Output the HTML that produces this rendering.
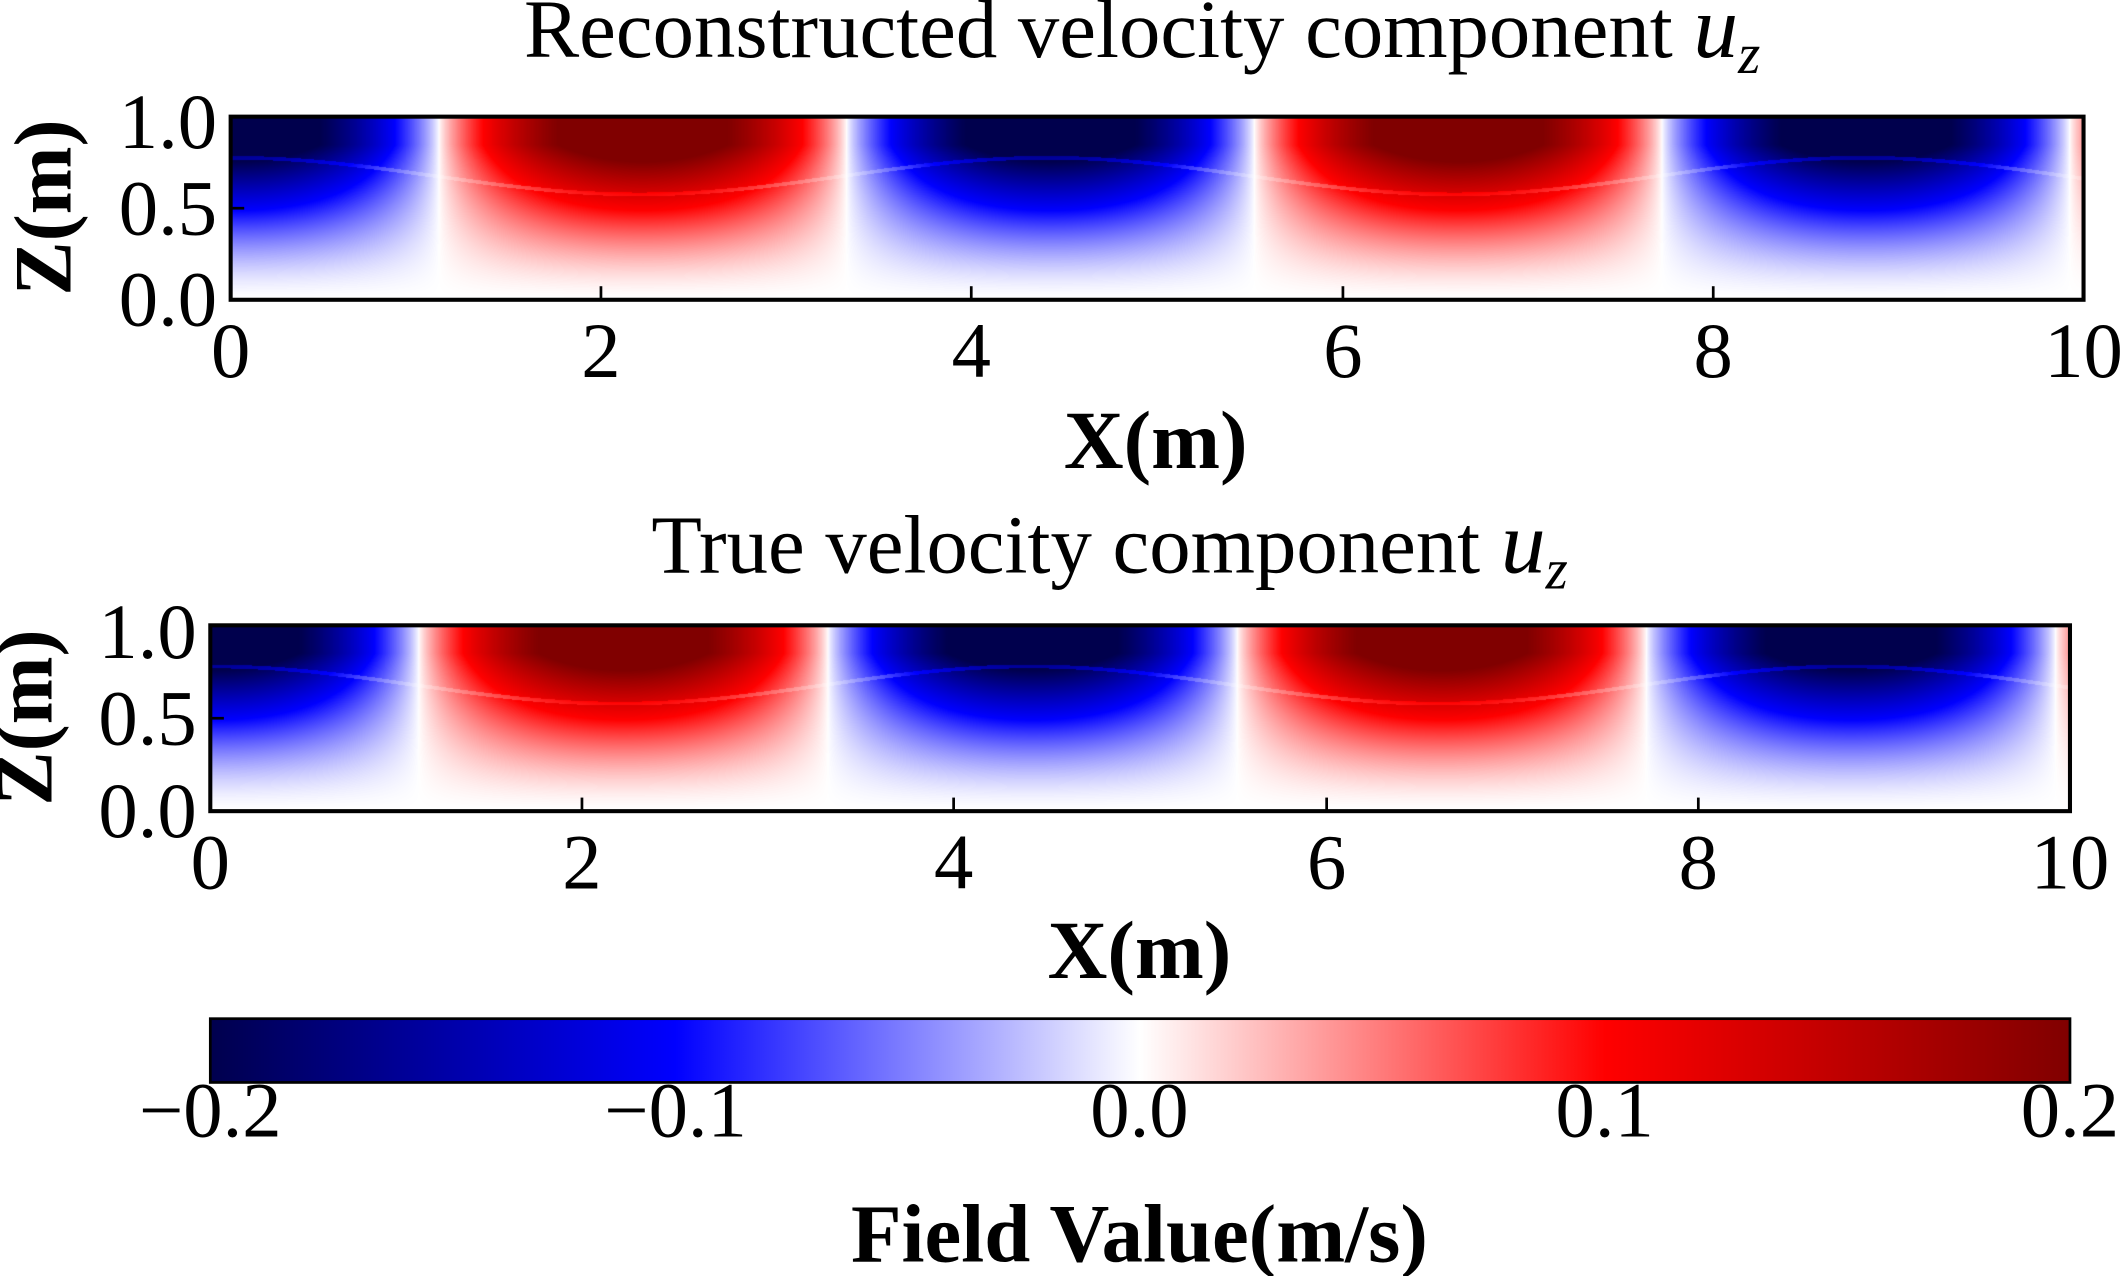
<!DOCTYPE html>
<html><head><meta charset="utf-8"><style>
html,body{margin:0;padding:0;background:#fff;}
#w{position:relative;width:2127px;height:1276px;overflow:hidden;}
canvas{position:absolute;}
svg{position:absolute;left:0;top:0;}
text{font-family:"Liberation Serif",serif;fill:#000;}
</style></head><body><div id="w">
<canvas id="c1" style="left:231px;top:117px" width="1853" height="183"></canvas>
<canvas id="c2" style="left:210px;top:625px" width="1860" height="186"></canvas>
<svg width="2127" height="1276" viewBox="0 0 1568 940.7">
<defs><linearGradient id="g" x1="0" x2="1" y1="0" y2="0">
<stop offset="0" stop-color="#00004d"/><stop offset="0.25" stop-color="#0000ff"/><stop offset="0.5" stop-color="#ffffff"/><stop offset="0.75" stop-color="#ff0000"/><stop offset="1" stop-color="#800000"/></linearGradient></defs>
<text x="842" y="42" font-size="61" text-anchor="middle">Reconstructed velocity component <tspan font-style="italic" font-size="66">u</tspan><tspan font-style="italic" font-size="42" dy="12">z</tspan></text>
<rect x="170" y="86" width="1366" height="135" fill="none" stroke="#000" stroke-width="3"/>
<g stroke="#000" stroke-width="2">
<line x1="170" y1="153.5" x2="180" y2="153.5"/>
<line x1="443" y1="221" x2="443" y2="211"/><line x1="716" y1="221" x2="716" y2="211"/><line x1="990" y1="221" x2="990" y2="211"/><line x1="1263" y1="221" x2="1263" y2="211"/>
</g>
<g font-size="58" text-anchor="end"><text x="160" y="109">1.0</text><text x="160" y="173">0.5</text><text x="160" y="240">0.0</text></g>
<g font-size="58" text-anchor="middle"><text x="170" y="278">0</text><text x="443" y="278">2</text><text x="716" y="278">4</text><text x="990" y="278">6</text><text x="1263" y="278">8</text><text x="1536" y="278">10</text></g>
<text x="852" y="345" font-size="61" font-weight="bold" text-anchor="middle">X(m)</text>
<text transform="translate(52,153) rotate(-90)" font-size="60" font-weight="bold" text-anchor="middle">Z(m)</text>
<text x="818" y="422" font-size="61" text-anchor="middle">True velocity component <tspan font-style="italic" font-size="66">u</tspan><tspan font-style="italic" font-size="42" dy="12">z</tspan></text>
<rect x="155" y="461" width="1371" height="137" fill="none" stroke="#000" stroke-width="3"/>
<g stroke="#000" stroke-width="2">
<line x1="155" y1="529.5" x2="165" y2="529.5"/>
<line x1="429" y1="598" x2="429" y2="588"/><line x1="703" y1="598" x2="703" y2="588"/><line x1="978" y1="598" x2="978" y2="588"/><line x1="1252" y1="598" x2="1252" y2="588"/>
</g>
<g font-size="58" text-anchor="end"><text x="145" y="485">1.0</text><text x="145" y="549">0.5</text><text x="145" y="617">0.0</text></g>
<g font-size="58" text-anchor="middle"><text x="155" y="655">0</text><text x="429" y="655">2</text><text x="703" y="655">4</text><text x="978" y="655">6</text><text x="1252" y="655">8</text><text x="1526" y="655">10</text></g>
<text x="840" y="721" font-size="61" font-weight="bold" text-anchor="middle">X(m)</text>
<text transform="translate(38,529) rotate(-90)" font-size="60" font-weight="bold" text-anchor="middle">Z(m)</text>
<rect x="155" y="751" width="1371" height="47" fill="url(#g)" stroke="#000" stroke-width="2"/>
<g font-size="58" text-anchor="middle"><text x="155" y="838">−0.2</text><text x="498" y="838">−0.1</text><text x="840" y="838">0.0</text><text x="1183" y="838">0.1</text><text x="1526" y="838">0.2</text></g>
<text x="840" y="930" font-size="61" font-weight="bold" text-anchor="middle">Field Value(m/s)</text>
</svg>
</div>
<script>
function cmap(v){var t=(v+0.2)/0.4;t=Math.max(0,Math.min(1,t));
var s=[[0,0,77],[0,0,255],[255,255,255],[255,0,0],[128,0,0]];
var p=t*4,i=Math.min(3,Math.floor(p)),f=p-i;
return [0,1,2].map(function(k){return Math.round(s[i][k]+(s[i+1][k]-s[i][k])*f);});}
function draw(id){var c=document.getElementById(id),ctx=c.getContext('2d'),W=c.width,H=c.height;
var img=ctx.createImageData(W,H);
for(var y=0;y<H;y++){var z=1-y/H;var fz=Math.pow(Math.min(1,z/0.85),1.6);
for(var x=0;x<W;x++){var X=x/W*10;
var ph=2*Math.PI*(X-1.12)/4.4;
var s=Math.sin(ph);
var v=0.24*Math.sign(s)*Math.pow(Math.abs(s),0.8)*fz;
var lz=0.68-0.1*Math.sin(2*Math.PI*(X-1.1)/4.4);
var d=Math.abs(z-lz);if(d<0.01)v*=0.75;
var col=cmap(v),o=(y*W+x)*4;
img.data[o]=col[0];img.data[o+1]=col[1];img.data[o+2]=col[2];img.data[o+3]=255;}}
ctx.putImageData(img,0,0);}
draw('c1');draw('c2');
</script>
</body></html>
